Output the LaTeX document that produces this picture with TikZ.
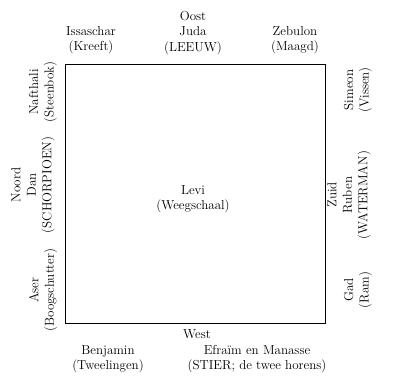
\documentclass[tikz,border=0pt]{standalone}
\usepackage{tikz}
\usetikzlibrary{calc,positioning}

\begin{document}
\begin{tikzpicture}[x=1pt,y=-1pt]
	\tikzstyle{tribe} = [align=center, inner sep=0pt, font=\fontsize{13}{15.5}\selectfont]
	\tikzstyle{side} = [tribe, rotate=90]
	\tikzstyle{camp} = [draw, line width=1pt]

	\useasboundingbox (0,0) rectangle (400,391);

	% the camp
	\coordinate (nw) at (65,64);
	\coordinate (se) at (325,323);
	\path[camp] (nw) rectangle (se);

	\node[tribe] (levi) at (193,199) {Levi\\(Weegschaal)};

	% top row
		\node[tribe] (issaschar) at (91,40)  {Issaschar\\(Kreeft)};
		\node[tribe] (juda)      at (193,33) {Oost\\Juda\\(LEEUW)};
		\node[tribe] (zebulon)   at (295,40) {Zebulon\\(Maagd)};

	% left column
		\node[side] (nafthali) at (43,92)  {Nafthali\\(Steenbok)};
		\node[side] (dan)      at (33,185) {Noord\\Dan\\(SCHORPIOEN)};
		\node[side] (aser)     at (43,290) {Aser\\(Boogschutter)};

	% right column
		\node[side] (simeon) at (358,90)  {Simeon\\(Vissen)};
		\node[side] (ruben)  at (349,195) {Zuid\\Ruben\\(WATERMAN)};
		\node[side] (gad)    at (358,290) {Gad\\(Ram)};

	% bottom row
		\node[tribe] (west)     at (197,334) {West};
		\node[tribe] (benjamin) at (108,359) {Benjamin\\(Tweelingen)};
		\node[tribe] (efraim)   at (257,359) {Efra\"im en Manasse\\(STIER; de twee horens)};
\end{tikzpicture}
\end{document}
